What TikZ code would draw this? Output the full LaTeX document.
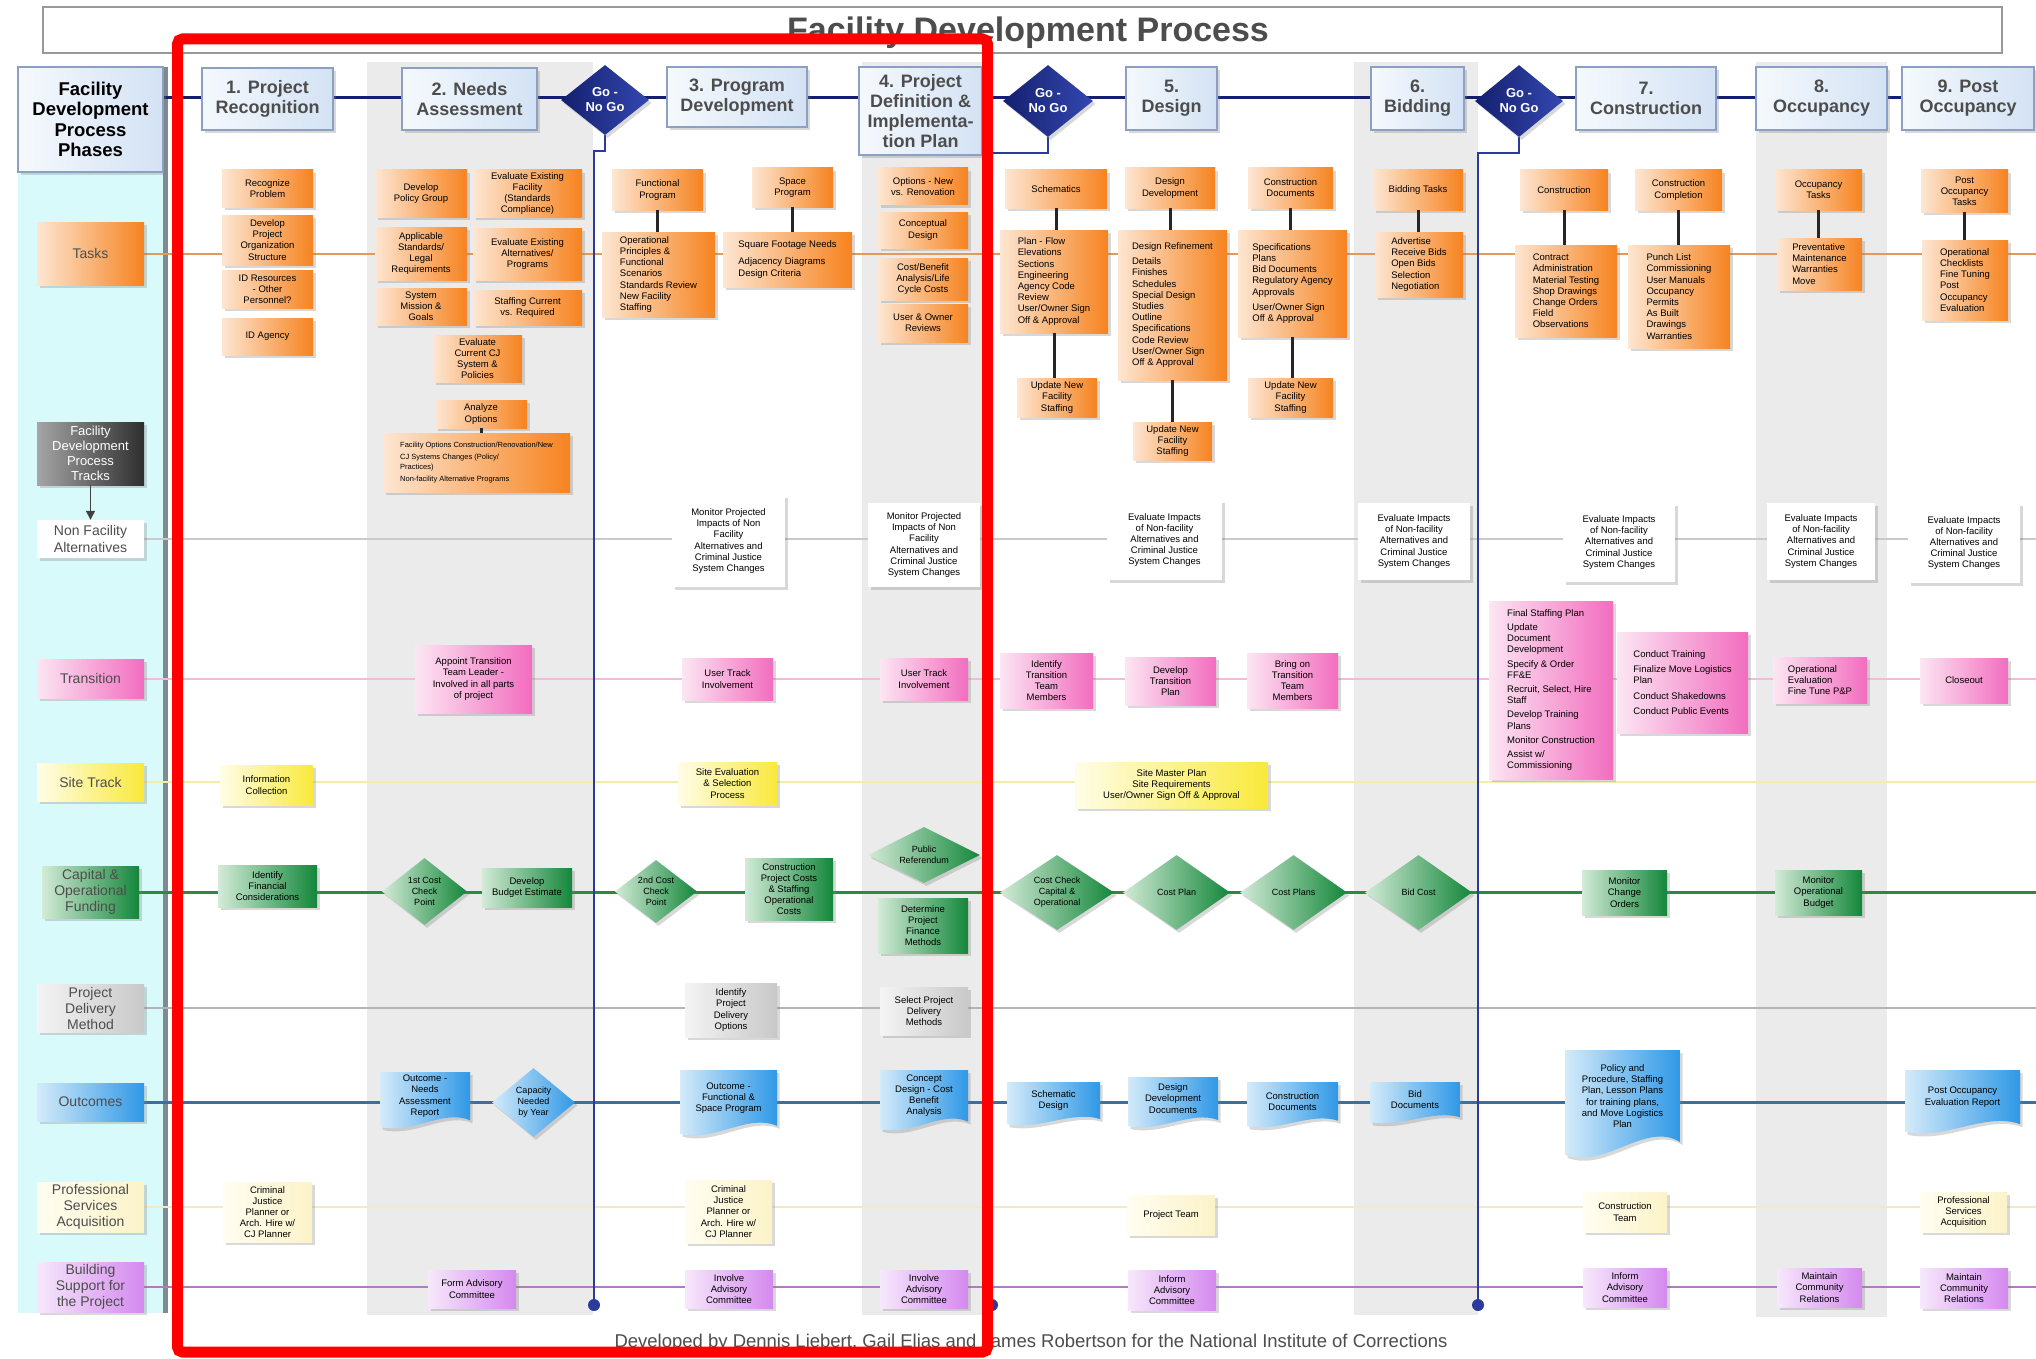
\documentclass[tikz,border=0pt]{standalone}
\usepackage{fontspec}
\setmainfont{Liberation Sans}
\usetikzlibrary{shapes.geometric,shadows,arrows.meta}
\definecolor{orL}{HTML}{FDE6D2}\definecolor{orD}{HTML}{F6831F}
\definecolor{pkL}{HTML}{FCE6F3}\definecolor{pkD}{HTML}{F26DBF}
\definecolor{ywL}{HTML}{FFFDE8}\definecolor{ywD}{HTML}{F9E93A}
\definecolor{grL}{HTML}{D3EBD7}\definecolor{grD}{HTML}{13873A}
\definecolor{blL}{HTML}{D4EBFA}\definecolor{blD}{HTML}{2F98E6}
\definecolor{vlL}{HTML}{F7E8FC}\definecolor{vlD}{HTML}{D489EE}
\definecolor{gyL}{HTML}{F4F4F4}\definecolor{gyD}{HTML}{C8C8C8}
\definecolor{qyL}{HTML}{FFFDF0}\definecolor{qyD}{HTML}{FBF3C8}
\definecolor{pbL}{HTML}{F5F9FD}\definecolor{pbD}{HTML}{D3E2F4}\definecolor{pbB}{HTML}{8CA0C4}
\definecolor{navy}{HTML}{14206E}\definecolor{navyL}{HTML}{3347B0}
\definecolor{colgray}{HTML}{EBEBEB}\definecolor{cyanbg}{HTML}{D8FAFA}
\definecolor{barcol}{HTML}{7E8C92}\definecolor{golc}{HTML}{2B3A9C}
\definecolor{fdL}{HTML}{A5A5A5}\definecolor{fdD}{HTML}{2E2E2E}
\definecolor{tkOr}{HTML}{E09A5A}\definecolor{tkGy}{HTML}{C9C9C9}
\definecolor{tkPk}{HTML}{F2BCD9}\definecolor{tkYw}{HTML}{F4EDA6}
\definecolor{tkGr}{HTML}{2C8A3E}\definecolor{tkPd}{HTML}{B4B4B4}
\definecolor{tkBl}{HTML}{3C6F9F}\definecolor{tkQy}{HTML}{F0EBC4}
\definecolor{tkVl}{HTML}{B27AC4}\definecolor{txg}{HTML}{4D4D4D}
\pgfdeclarelayer{bg}\pgfdeclarelayer{lines}\pgfdeclarelayer{front}
\pgfsetlayers{bg,lines,main,front}
\newcommand\BX[7][]{\node[#2,minimum width={#6-#4},minimum height={#7-#5},#1] (#3) at ({(#4+#6)/2},{(#5+#7)/2})}
\newcommand\DOC[6]{%
 \shade[docshade] (#2,#3) -- (#4,#3) -- (#4,{#5-0.14*(#5-#3)}) .. controls ({#2+0.7*(#4-#2)},{#5-0.34*(#5-#3)}) and ({#2+0.35*(#4-#2)},{#5+0.12*(#5-#3)}) .. (#2,{#5-0.02*(#5-#3)}) -- cycle;
 \node[nbase,minimum width={#4-#2},minimum height={0.85*(#5-#3)}] (#1) at ({(#2+#4)/2},{#3+0.43*(#5-#3)}) {#6};}
\begin{document}
\begin{tikzpicture}[x=1pt,y=-1pt,
 nbase/.style={rectangle,align=center,inner sep=1.5pt,font=\fontsize{9.5}{11.2}\selectfont,text=black},
 shad/.style={drop shadow={opacity=0.3,shadow xshift=2.5pt,shadow yshift=-3pt}},
 obox/.style={nbase,shad,left color=orL,right color=orD},
 pbox/.style={nbase,shad,left color=pkL,right color=pkD},
 ybox/.style={nbase,shad,left color=ywL,right color=ywD},
 gbox/.style={nbase,shad,left color=grL,right color=grD},
 gdia/.style={nbase,shape=diamond,aspect=1.4,inner sep=0pt,shad,left color=grL,right color=grD,font=\fontsize{9}{11}\selectfont},
 bdia/.style={nbase,shape=diamond,aspect=1.3,inner sep=0pt,shad,left color=blL,right color=blD,font=\fontsize{9}{11}\selectfont},
 dbox/.style={nbase,shad,left color=gyL,right color=gyD},
 qbox/.style={nbase,shad,left color=qyL,right color=qyD},
 vbox/.style={nbase,shad,left color=vlL,right color=vlD},
 wbox/.style={nbase,shad,fill=white},
 docshade/.style={left color=blL,right color=blD,drop shadow={opacity=0.3,shadow xshift=2.5pt,shadow yshift=-3pt}},
 phbox/.style={rectangle,align=center,draw=pbB,line width=1.3pt,left color=pbL,right color=pbD,shad,inner sep=2pt,font=\fontsize{18}{20}\selectfont\bfseries,text=txg},
 godia/.style={shape=diamond,aspect=1.3,inner sep=0pt,align=center,left color=navy,right color=navyL,shad,text=white,font=\fontsize{13}{15}\selectfont\bfseries},
 lbl/.style={rectangle,align=center,inner sep=1pt,shad,font=\fontsize{14}{16.5}\selectfont,text=txg},
 trk/.style={line width=2pt},
 goline/.style={line width=2.5pt,color=golc},
 conn/.style={line width=3pt,color=black!85}]
\useasboundingbox (0,0) rectangle (2036,1359);
\begin{pgfonlayer}{bg}
 \fill[white] (0,0) rectangle (2036,1359);
 \fill[cyanbg] (18,67) rectangle (163,1313);
 \fill[colgray] (367,62) rectangle (593,1315);
 \fill[colgray] (862,62) rectangle (992,1315);
 \fill[colgray] (1354,62) rectangle (1478,1315);
 \fill[colgray] (1756,62) rectangle (1887,1317);
 \draw[line width=5pt,barcol] (165,67) -- (165,1313);
\end{pgfonlayer}
% title
\draw[draw=gray!80,line width=1.2pt,fill=white] (43,7) rectangle (2002,53);
\node[anchor=base,font=\fontsize{34}{36}\selectfont\bfseries,text=txg] (title) at (1028,42) {Facility Development Process};
% phases
\BX[font=\fontsize{18.5}{20.5}\selectfont\bfseries,text=black]{phbox}{hdr}{18}{67}{163}{172}{Facility\\Development\\Process\\Phases};
\BX{phbox}{p1}{202}{68}{333}{130}{1. Project\\Recognition};
\BX{phbox}{p2}{402}{68}{537}{130}{2. Needs\\Assessment};
\BX{godia}{g1}{561}{65}{649}{135}{Go -\\No Go};
\BX{phbox}{p3}{667}{67}{807}{127}{3. Program\\Development};
\BX{phbox}{p4}{859}{67}{982}{155}{4. Project\\Definition \&\\Implementa-\\tion Plan};
\BX{godia}{g2}{1003}{65}{1093}{137}{Go -\\No Go};
\BX{phbox}{p5}{1126}{67}{1217}{130}{5.\\Design};
\BX{phbox}{p6}{1371}{67}{1464}{130}{6.\\Bidding};
\BX{godia}{g3}{1475}{65}{1563}{137}{Go -\\No Go};
\BX{phbox}{p7}{1576}{67}{1716}{130}{7.\\Construction};
\BX{phbox}{p8}{1756}{67}{1887}{130}{8.\\Occupancy};
\BX{phbox}{p9}{1902}{67}{2034}{130}{9. Post\\Occupancy};
% left labels
\BX[left color=orL,right color=orD]{lbl}{L0}{37}{222}{144}{285}{Tasks};
\BX[left color=fdL,right color=fdD,text=white,font=\fontsize{13}{15}\selectfont]{lbl}{L1}{37}{422}{144}{485}{Facility\\Development\\Process\\Tracks};
\BX[fill=white]{lbl}{L2}{37}{520}{144}{558}{Non Facility\\Alternatives};
\BX[left color=pkL,right color=pkD]{lbl}{L3}{37}{659}{144}{698}{Transition};
\BX[left color=ywL,right color=ywD]{lbl}{L4}{37}{763}{144}{801}{Site Track};
\BX[left color=grL,right color=grD,font=\fontsize{14}{16}\selectfont]{lbl}{L5}{42}{866}{139}{918}{Capital \&\\Operational\\Funding};
\BX[left color=gyL,right color=gyD,font=\fontsize{14}{16}\selectfont]{lbl}{L6}{37}{984}{144}{1032}{Project\\Delivery\\Method};
\BX[left color=blL,right color=blD]{lbl}{L7}{37}{1083}{144}{1121}{Outcomes};
\BX[left color=qyL,right color=qyD,font=\fontsize{14}{16}\selectfont]{lbl}{L8}{37}{1182}{144}{1232}{Professional\\Services\\Acquisition};
\BX[left color=vlL,right color=vlD,font=\fontsize{14}{16}\selectfont]{lbl}{L9}{37}{1262}{144}{1312}{Building\\Support for\\the Project};
\draw[-{Triangle[width=9pt,length=9pt]},line width=1.5pt,black!75] (L1.south) -- (L2.north);
% ---- Tasks
\BX{obox}{t1a}{222}{170}{313}{207}{Recognize\\Problem};
\BX{obox}{t1b}{222}{215}{313}{265}{Develop\\Project\\Organization\\Structure};
\BX{obox}{t1c}{222}{270}{313}{308}{ID Resources\\- Other\\Personnel?};
\BX{obox}{t1d}{222}{318}{313}{355}{ID Agency};
\BX{obox}{t2a}{375}{170}{467}{217}{Develop\\Policy Group};
\BX{obox}{t2b}{375}{227}{467}{280}{Applicable\\Standards/\\Legal\\Requirements};
\BX{obox}{t2c}{375}{288}{467}{325}{System\\Mission \&\\Goals};
\BX{obox}{t2d}{473}{170}{582}{217}{Evaluate Existing\\Facility\\(Standards\\Compliance)};
\BX{obox}{t2e}{473}{228}{582}{280}{Evaluate Existing\\Alternatives/\\Programs};
\BX{obox}{t2f}{473}{290}{582}{325}{Staffing Current\\vs. Required};
\BX{obox}{t2g}{433}{335}{522}{382}{Evaluate\\Current CJ\\System \&\\Policies};
\BX{obox}{t2h}{435}{400}{527}{428}{Analyze\\Options};
\BX[align=left,font=\fontsize{7.5}{10}\selectfont]{obox}{t2i}{383}{433}{570}{492}{Facility Options Construction/Renovation/New\\[2pt]CJ Systems Changes (Policy/\\Practices)\\[2pt]Non-facility Alternative Programs};
\BX{obox}{t3a}{612}{170}{703}{210}{Functional\\Program};
\BX[align=left]{obox}{t3b}{602}{232}{715}{317}{Operational\\Principles \&\\Functional\\Scenarios\\Standards Review\\New Facility\\Staffing};
\BX{obox}{t3c}{752}{168}{833}{207}{Space\\Program};
\BX[align=left]{obox}{t3d}{723}{232}{852}{287}{Square Footage Needs\\[6pt]Adjacency Diagrams\\Design Criteria};
\BX{obox}{t4a}{878}{168}{968}{205}{Options - New\\vs. Renovation};
\BX{obox}{t4b}{878}{212}{968}{248}{Conceptual\\Design};
\BX{obox}{t4c}{878}{258}{968}{300}{Cost/Benefit\\Analysis/Life\\Cycle Costs};
\BX{obox}{t4d}{878}{304}{968}{342}{User \& Owner\\Reviews};
\BX{obox}{t5a}{1005}{170}{1107}{208}{Schematics};
\BX[align=left]{obox}{t5b}{1000}{230}{1108}{333}{Plan - Flow\\Elevations\\Sections\\Engineering\\Agency Code\\Review\\User/Owner Sign\\Off \& Approval};
\BX{obox}{t5c}{1017}{378}{1097}{417}{Update New\\Facility\\Staffing};
\BX{obox}{t5d}{1125}{168}{1215}{208}{Design\\Development};
\BX[align=left]{obox}{t5e}{1118}{230}{1227}{380}{Design Refinement\\[4pt]Details\\Finishes\\Schedules\\Special Design\\Studies\\Outline\\Specifications\\Code Review\\User/Owner Sign\\Off \& Approval};
\BX{obox}{t5f}{1133}{422}{1212}{460}{Update New\\Facility\\Staffing};
\BX{obox}{t5g}{1248}{168}{1333}{208}{Construction\\Documents};
\BX[align=left]{obox}{t5h}{1238}{230}{1347}{337}{Specifications\\Plans\\Bid Documents\\Regulatory Agency\\Approvals\\[4pt]User/Owner Sign\\Off \& Approval};
\BX{obox}{t5i}{1248}{378}{1333}{417}{Update New\\Facility\\Staffing};
\BX{obox}{t6a}{1373}{170}{1463}{210}{Bidding Tasks};
\BX[align=left]{obox}{t6b}{1375}{232}{1463}{297}{Advertise\\Receive Bids\\Open Bids\\Selection\\Negotiation};
\BX{obox}{t7a}{1520}{170}{1608}{210}{Construction};
\BX[align=left]{obox}{t7b}{1515}{245}{1617}{337}{Contract\\Administration\\Material Testing\\Shop Drawings\\Change Orders\\Field\\Observations};
\BX{obox}{t7c}{1635}{170}{1722}{210}{Construction\\Completion};
\BX[align=left]{obox}{t7d}{1628}{245}{1730}{348}{Punch List\\Commissioning\\User Manuals\\Occupancy\\Permits\\As Built\\Drawings\\Warranties};
\BX{obox}{t8a}{1775}{170}{1862}{210}{Occupancy\\Tasks};
\BX[align=left]{obox}{t8b}{1777}{238}{1862}{290}{Preventative\\Maintenance\\Warranties\\Move};
\BX{obox}{t9a}{1921}{170}{2008}{212}{Post\\Occupancy\\Tasks};
\BX[align=left]{obox}{t9b}{1922}{240}{2008}{320}{Operational\\Checklists\\Fine Tuning\\Post\\Occupancy\\Evaluation};
\foreach \a/\b in {t2h/t2i,t3a/t3b,t3c/t3d,t5a/t5b,t5b/t5c,t5d/t5e,t5e/t5f,t5g/t5h,t5h/t5i,t6a/t6b,t7a/t7b,t7c/t7d,t8a/t8b,t9a/t9b}
 \draw[conn] (\a.south) -- (\a.south |- \b.north);
% ---- Non facility
\BX{wbox}{n3}{672}{495}{785}{587}{Monitor Projected\\Impacts of Non\\Facility\\Alternatives and\\Criminal Justice\\System Changes};
\BX{wbox}{n4}{868}{503}{980}{587}{Monitor Projected\\Impacts of Non\\Facility\\Alternatives and\\Criminal Justice\\System Changes};
\BX{wbox}{n5}{1107}{500}{1222}{580}{Evaluate Impacts\\of Non-facility\\Alternatives and\\Criminal Justice\\System Changes};
\BX{wbox}{n6}{1358}{503}{1470}{580}{Evaluate Impacts\\of Non-facility\\Alternatives and\\Criminal Justice\\System Changes};
\BX{wbox}{n7}{1563}{503}{1675}{582}{Evaluate Impacts\\of Non-facility\\Alternatives and\\Criminal Justice\\System Changes};
\BX{wbox}{n8}{1767}{503}{1875}{580}{Evaluate Impacts\\of Non-facility\\Alternatives and\\Criminal Justice\\System Changes};
\BX{wbox}{n9}{1908}{503}{2020}{583}{Evaluate Impacts\\of Non-facility\\Alternatives and\\Criminal Justice\\System Changes};
% ---- Transition
\BX{pbox}{r2}{415}{645}{532}{713}{Appoint Transition\\Team Leader -\\Involved in all parts\\of project};
\BX{pbox}{r3}{682}{658}{773}{700}{User Track\\Involvement};
\BX{pbox}{r4}{880}{658}{968}{700}{User Track\\Involvement};
\BX{pbox}{r5a}{1000}{653}{1093}{708}{Identify\\Transition\\Team\\Members};
\BX{pbox}{r5b}{1125}{657}{1216}{705}{Develop\\Transition\\Plan};
\BX{pbox}{r5c}{1247}{653}{1338}{708}{Bring on\\Transition\\Team\\Members};
\BX[align=left]{pbox}{r7a}{1489}{601}{1613}{779}{Final Staffing Plan\\[3pt]Update\\Document\\Development\\[3pt]Specify \& Order\\FF\&E\\[3pt]Recruit, Select, Hire\\Staff\\[3pt]Develop Training\\Plans\\[3pt]Monitor Construction\\[3pt]Assist w/\\Commissioning};
\BX[align=left]{pbox}{r7b}{1617}{632}{1748}{733}{Conduct Training\\[4pt]Finalize Move Logistics\\Plan\\[4pt]Conduct Shakedowns\\[4pt]Conduct Public Events};
\BX[align=left]{pbox}{r8}{1773}{657}{1867}{703}{Operational\\Evaluation\\Fine Tune P\&P};
\BX{pbox}{r9}{1920}{658}{2008}{703}{Closeout};
% ---- Site
\BX{ybox}{s1}{220}{765}{313}{805}{Information\\Collection};
\BX{ybox}{s3}{678}{762}{777}{805}{Site Evaluation\\\& Selection\\Process};
\BX{ybox}{s5}{1075}{762}{1268}{808}{Site Master Plan\\Site Requirements\\User/Owner Sign Off \& Approval};
% ---- Capital
\BX{gbox}{c1}{218}{865}{317}{907}{Identify\\Financial\\Considerations};
\BX{gdia}{c2a}{382}{858}{467}{925}{1st Cost\\Check\\Point};
\BX{gbox}{c2b}{482}{868}{572}{907}{Develop\\Budget Estimate};
\BX{gdia}{c3a}{615}{860}{697}{923}{2nd Cost\\Check\\Point};
\BX{gbox}{c3b}{745}{858}{833}{920}{Construction\\Project Costs\\\& Staffing\\Operational\\Costs};
\BX[aspect=2]{gdia}{c4a}{868}{827}{980}{883}{Public\\Referendum};
\BX{gbox}{c4b}{878}{898}{968}{953}{Determine\\Project\\Finance\\Methods};
\BX[aspect=1.6]{gdia}{c5a}{1000}{855}{1114}{930}{Cost Check\\Capital \&\\Operational};
\BX{gdia}{c5b}{1123}{855}{1230}{930}{Cost Plan};
\BX{gdia}{c5c}{1240}{855}{1347}{930}{Cost Plans};
\BX{gdia}{c6}{1365}{855}{1472}{930}{Bid Cost};
\BX{gbox}{c7}{1582}{870}{1667}{915}{Monitor\\Change\\Orders};
\BX{gbox}{c8}{1775}{870}{1862}{915}{Monitor\\Operational\\Budget};
% ---- Project delivery
\BX{dbox}{d3}{685}{983}{777}{1037}{Identify\\Project\\Delivery\\Options};
\BX{dbox}{d4}{880}{987}{968}{1035}{Select Project\\Delivery\\Methods};
% ---- Outcomes
\DOC{o2a}{380}{1072}{470}{1128}{Outcome -\\Needs\\Assessment\\Report}
\BX{bdia}{o2b}{492}{1068}{575}{1137}{Capacity\\Needed\\by Year};
\DOC{o3}{680}{1070}{777}{1135}{Outcome -\\Functional \&\\Space Program}
\DOC{o4}{880}{1070}{968}{1130}{Concept\\Design - Cost\\Benefit\\Analysis}
\DOC{o5a}{1007}{1082}{1100}{1125}{Schematic\\Design}
\DOC{o5b}{1128}{1077}{1218}{1127}{Design\\Development\\Documents}
\DOC{o5c}{1247}{1082}{1338}{1127}{Construction\\Documents}
\DOC{o6}{1370}{1082}{1460}{1123}{Bid\\Documents}
\DOC{o7}{1565}{1050}{1680}{1157}{Policy and\\Procedure, Staffing\\Plan, Lesson Plans\\for training plans,\\and Move Logistics\\Plan}
\DOC{o9}{1905}{1070}{2020}{1133}{Post Occupancy\\Evaluation Report}
% ---- Professional services
\BX{qbox}{q1}{223}{1182}{312}{1242}{Criminal\\Justice\\Planner or\\Arch. Hire w/\\CJ Planner};
\BX{qbox}{q3}{685}{1180}{772}{1243}{Criminal\\Justice\\Planner or\\Arch. Hire w/\\CJ Planner};
\BX{qbox}{q5}{1127}{1195}{1215}{1235}{Project Team};
\BX{qbox}{q7}{1583}{1192}{1667}{1232}{Construction\\Team};
\BX{qbox}{q9}{1920}{1192}{2007}{1232}{Professional\\Services\\Acquisition};
% ---- Building support
\BX{vbox}{b2}{428}{1270}{516}{1308}{Form Advisory\\Committee};
\BX{vbox}{b3}{685}{1270}{773}{1308}{Involve\\Advisory\\Committee};
\BX{vbox}{b4}{880}{1270}{968}{1308}{Involve\\Advisory\\Committee};
\BX{vbox}{b5}{1128}{1270}{1216}{1310}{Inform\\Advisory\\Committee};
\BX{vbox}{b7}{1583}{1268}{1667}{1307}{Inform\\Advisory\\Committee};
\BX{vbox}{b8}{1777}{1268}{1862}{1307}{Maintain\\Community\\Relations};
\BX{vbox}{b9}{1920}{1268}{2008}{1308}{Maintain\\Community\\Relations};
% go / no go dots
\node[circle,fill=golc,inner sep=0pt,minimum size=12pt] (g1dot) at (594,1305) {};
\node[circle,fill=golc,inner sep=0pt,minimum size=12pt] (g2dot) at (992,1305) {};
\node[circle,fill=golc,inner sep=0pt,minimum size=12pt] (g3dot) at (1478,1305) {};
\coordinate (g1k) at (594,151);
\coordinate (g2k) at (992,153);
\coordinate (g3k) at (1478,153);
\coordinate (E) at (2036,0);
\coordinate (phaseA) at (163,98);
\coordinate (phaseB) at (1902,98);
\begin{pgfonlayer}{lines}
 \draw[trk,tkOr] (L0.east) -- (L0.east -| E);
 \draw[trk,tkGy] (L2.east) -- (L2.east -| E);
 \draw[trk,tkPk] (L3.east) -- (L3.east -| E);
 \draw[trk,tkYw] (L4.east) -- (L4.east -| E);
 \draw[trk,tkGr,line width=3pt] (L5.east) -- (L5.east -| E);
 \draw[trk,tkPd] (L6.east) -- (L6.east -| E);
 \draw[trk,tkBl,line width=3pt] (L7.east) -- (L7.east -| E);
 \draw[trk,tkQy] (L8.east) -- (L8.east -| E);
 \draw[trk,tkVl] (L9.east) -- (L9.east -| E);
 \draw[line width=3pt,navy] (phaseA) -- (phaseB);
 \draw[goline] (g1.south) |- (g1k) -- (g1dot);
 \draw[goline] (g2.south) |- (g2k) -- (g2dot);
 \draw[goline] (g3.south) |- (g3k) -- (g3dot);
\end{pgfonlayer}
% footer
\node[anchor=base,font=\fontsize{18.5}{20}\selectfont,text=txg] (foot) at (1031,1347) {Developed by Dennis Liebert, Gail Elias and James Robertson for the National Institute of Corrections};
% red highlight
\begin{pgfonlayer}{front}
 \draw[red,line width=11pt,rounded corners=5pt] (177.5,39) rectangle (987.5,1352);
\end{pgfonlayer}
\end{tikzpicture}
\end{document}
